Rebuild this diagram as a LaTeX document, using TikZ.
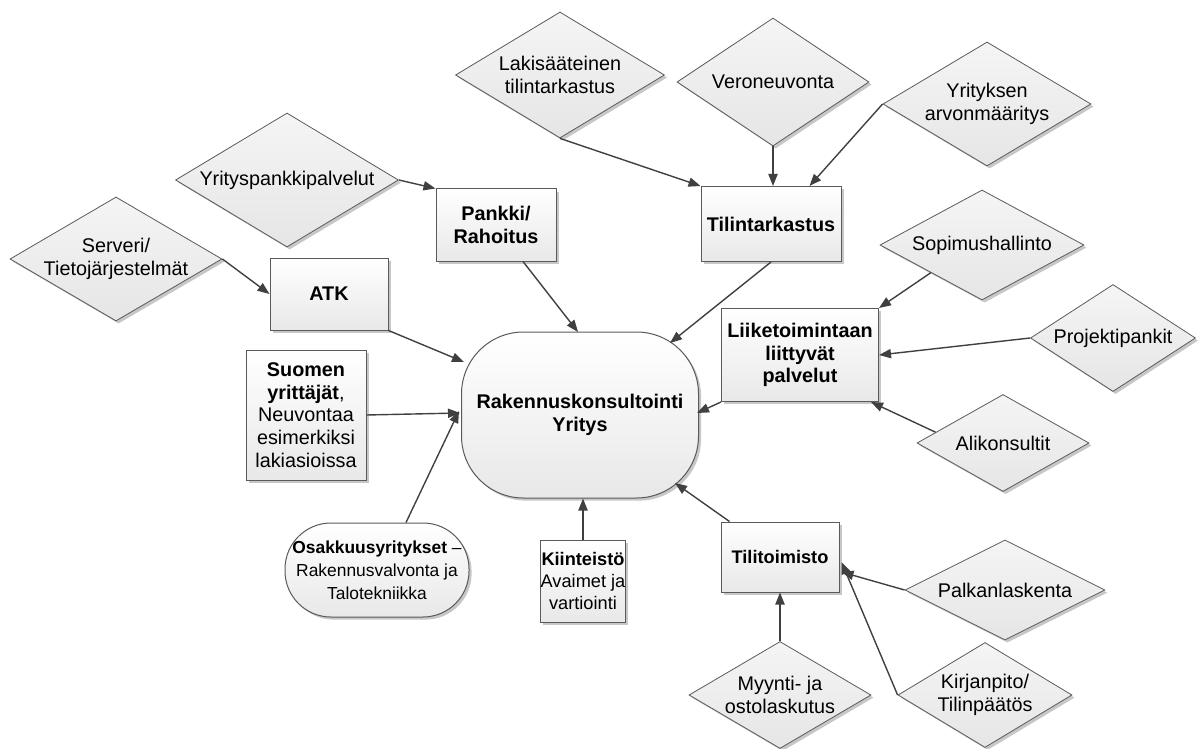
\documentclass[tikz,border=0pt]{standalone}
\usepackage{fontspec}
\setmainfont{Liberation Sans}
\usetikzlibrary{shapes.geometric,arrows.meta,shadows,calc}
\definecolor{edge}{HTML}{404040}
\definecolor{bord}{HTML}{5A5A5A}
\begin{document}
\begin{tikzpicture}[x=0.5pt,y=-0.5pt,
  every node/.style={font=\fontsize{9.9}{11.4}\selectfont, align=center, inner sep=0pt},
  smallfont/.style={font=\fontsize{8.7}{11.4}\selectfont},
  midfont/.style={font=\fontsize{9.1}{11.2}\selectfont},
  shad/.style={drop shadow={shadow xshift=1.3pt, shadow yshift=-1.3pt, opacity=0.22, fill=black}},
  boxnode/.style={rectangle, draw=bord, line width=0.5pt, top color=white, bottom color=black!9, shad},
  roundnode/.style={rectangle, rounded corners=#1, draw=bord, line width=0.5pt, top color=white, bottom color=black!9, shad},
  dia/.style={diamond, draw=bord, line width=0.4pt, top color=black!4, bottom color=black!10, shad},
  conn/.style={draw=edge, line width=0.7pt, -{Triangle[length=6pt,width=4.6pt]}}
]
\useasboundingbox (0,0) rectangle (1200,749);

% main
\node[roundnode=31pt, minimum width=118.5pt, minimum height=83pt] (c) at (580,415) {\bfseries Rakennuskonsultointi\\\bfseries Yritys};

% boxes
\node[boxnode, minimum width=59pt, minimum height=36pt] (atk) at (329,294) {\bfseries ATK};
\node[boxnode, minimum width=60pt, minimum height=36pt] (pk) at (496,225) {\bfseries Pankki/\\\bfseries Rahoitus};
\node[boxnode, minimum width=70pt, minimum height=37.5pt] (tt) at (771,224) {\bfseries Tilintarkastus};
\node[boxnode, minimum width=78.5pt, minimum height=46.5pt] (lt) at (800,355) {\bfseries Liiketoimintaan\\\bfseries liittyvät\\\bfseries palvelut};
\node[boxnode, minimum width=60pt, minimum height=65pt] (sy) at (306,415) {\bfseries Suomen\\\textbf{yrittäjät},\\Neuvontaa\\esimerkiksi\\lakiasioissa};
\node[boxnode, midfont, minimum width=40.5pt, minimum height=41pt] (kt) at (583,581) {\bfseries Kiinteistö\\Avaimet ja\\vartiointi};
\node[boxnode, midfont, minimum width=59pt, minimum height=35pt] (to) at (780,557) {\bfseries Tilitoimisto};
\node[roundnode=23pt, smallfont, minimum width=92pt, minimum height=47pt] (os) at (377,570) {\textbf{Osakkuusyritykset} –\\Rakennusvalvonta ja\\Talotekniikka};

% diamonds
\node[dia, minimum width=104.5pt, minimum height=63pt, label={[align=center]center:Lakisääteinen\\tilintarkastus}] (lk) at (560,75) {};
\node[dia, minimum width=96pt, minimum height=64pt, label={center:Veroneuvonta}] (vn) at (773,82) {};
\node[dia, minimum width=104pt, minimum height=62pt, label={[align=center]center:Yrityksen\\arvonmääritys}] (ya) at (987,104) {};
\node[dia, minimum width=111.5pt, minimum height=67pt, label={center:Yrityspankkipalvelut}] (yp) at (287,180) {};
\node[dia, minimum width=106pt, minimum height=62pt, label={[align=center]center:Serveri/\\Tietojärjestelmät}] (sv) at (116,259) {};
\node[dia, minimum width=102pt, minimum height=55pt, label={center:Sopimushallinto}] (sh) at (982,245) {};
\node[dia, minimum width=82.5pt, minimum height=53.5pt, label={center:Projektipankit}] (pj) at (1113,338) {};
\node[dia, minimum width=86pt, minimum height=48.5pt, label={center:Alikonsultit}] (ak) at (1003,443) {};
\node[dia, minimum width=100pt, minimum height=50pt, label={center:Palkanlaskenta}] (pl) at (1005,590) {};
\node[dia, minimum width=91pt, minimum height=53.5pt, label={[align=center]center:Myynti- ja\\ostolaskutus}] (my) at (780,695) {};
\node[dia, minimum width=87pt, minimum height=52.5pt, label={[align=center]center:Kirjanpito/\\Tilinpäätös}] (kp) at (985,695) {};

% connectors to intermediate boxes
\draw[conn] (lk.south) -- (tt.north west);
\draw[conn] (vn.south) -- (vn.south |- tt.north);
\draw[conn] (ya.west) -- ($(tt.north east)+(-32,0)$);
\draw[conn] (yp.east) -- (pk.north west);
\draw[conn] (sv.east) -- (atk.west);
\draw[conn] (sh.south west) -- (lt.north east);
\draw[conn] (pj.west) -- (lt.east);
\draw[conn] ($(ak.west)!0.22!(ak.north)$) -- ($(lt.south east)+(-8,0)$);
\draw[conn] (pl.west) -- ($(to.east)+(2,15)$);
\draw[conn] (kp.west) -- ($(to.east)+(2,5)$);
\draw[conn] (my.north) -- (to.south);

% connectors to main
\draw[conn] (atk.south east) -- ($(c.center)+(-116,-53)$);
\draw[conn] ($(pk.south)+(27,0)$) -- ($(c.center)+(-2,-83)$);
\draw[conn] (tt.south) -- ($(c.center)+(90,-72)$);
\draw[conn] (lt.south west) -- ($(c.center)+(117,-2)$);
\draw[conn] (sy.east) -- ($(c.center)+(-120,-2)$);
\draw[conn] ($(os.north)+(29,0)$) -- ($(c.center)+(-121,-4)$);
\draw[conn] (kt.north) -- (kt.north |- c.south);
\draw[conn] ($(to.north west)+(9,0)$) -- ($(c.center)+(95,68)$);
\end{tikzpicture}
\end{document}
